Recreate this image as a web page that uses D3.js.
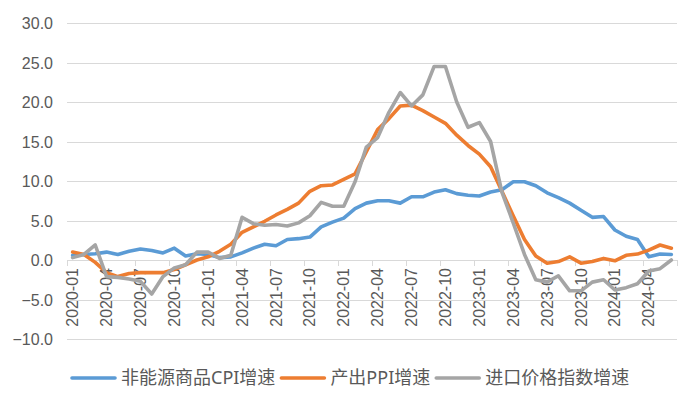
<!DOCTYPE html>
<html>
<head>
<meta charset="utf-8">
<script src="https://cdn.jsdelivr.net/npm/d3@7"></script>
<style>
  html, body { margin: 0; padding: 0; background: #fff; }
  svg { display: block; font-family: "Noto Sans", "Noto Sans CJK SC", sans-serif; }
</style>
</head>
<body>
<svg id="chart" width="700" height="409"></svg>
<script>
const months = [
  "2020-01","2020-02","2020-03","2020-04","2020-05","2020-06","2020-07","2020-08","2020-09","2020-10","2020-11","2020-12",
  "2021-01","2021-02","2021-03","2021-04","2021-05","2021-06","2021-07","2021-08","2021-09","2021-10","2021-11","2021-12",
  "2022-01","2022-02","2022-03","2022-04","2022-05","2022-06","2022-07","2022-08","2022-09","2022-10","2022-11","2022-12",
  "2023-01","2023-02","2023-03","2023-04","2023-05","2023-06","2023-07","2023-08","2023-09","2023-10","2023-11","2023-12",
  "2024-01","2024-02","2024-03","2024-04","2024-05","2024-06"
];
const seriesNames = ["非能源商品CPI增速", "产出PPI增速", "进口价格指数增速"];
const cpiNonEnergy = [
  0.6, 0.7, 0.8, 1.0, 0.7, 1.1, 1.4, 1.2, 0.9, 1.5, 0.5, 0.8,
  0.7, 0.3, 0.4, 0.9, 1.5, 2.0, 1.8, 2.6, 2.7, 2.9, 4.2, 4.8,
  5.3, 6.5, 7.2, 7.5, 7.5, 7.2, 8.0, 8.0, 8.6, 8.9, 8.4, 8.2,
  8.1, 8.6, 8.9, 9.9, 9.9, 9.4, 8.5, 7.9, 7.2, 6.3, 5.4, 5.5,
  3.8, 3.0, 2.6, 0.4, 0.75, 0.7
];
const ppiOutput = [
  1.0, 0.7, -0.3, -1.6, -2.1, -1.7, -1.6, -1.6, -1.6, -1.2, -0.6, 0.0,
  0.4, 1.1, 2.0, 3.5, 4.2, 4.9, 5.7, 6.4, 7.2, 8.7, 9.4, 9.5,
  10.2, 10.9, 13.7, 16.5, 17.9, 19.5, 19.6, 18.9, 18.1, 17.3, 15.8, 14.5,
  13.4, 11.8, 8.7, 5.6, 2.6, 0.5, -0.4, -0.2, 0.4, -0.4, -0.2, 0.2,
  -0.1, 0.6, 0.75, 1.25, 1.9, 1.5
];
const importPrice = [
  0.3, 0.7, 1.9, -2.1, -2.2, -2.4, -2.7, -4.3, -2.1, -1.0, -0.6, 1.0,
  1.0, 0.2, 0.6, 5.4, 4.6, 4.4, 4.5, 4.3, 4.7, 5.6, 7.3, 6.8,
  6.8, 9.9, 14.3, 15.5, 18.7, 21.2, 19.5, 20.9, 24.5, 24.5, 20.0, 16.8,
  17.4, 15.0, 8.6, 4.7, 0.7, -2.5, -2.8, -2.0, -3.9, -3.9, -2.8, -2.5,
  -3.8, -3.5, -3.0, -1.4, -1.1, 0.0
];
const yTicks = [-10, -5, 0, 5, 10, 15, 20, 25, 30];
const colors = ["#5B9BD5", "#ED7D31", "#A5A5A5"];

const svg = d3.select("#chart");
const plot = { left: 67, right: 677, top: 23, bottom: 339 };
const textColor = "#595959";
const gridColor = "#d9d9d9";

const x = d3.scaleBand().domain(months).range([plot.left, plot.right]).padding(0);
const y = d3.scaleLinear().domain([-10, 30]).range([plot.bottom, plot.top]);
const bw = x.bandwidth();
const cx = m => x(m) + bw / 2;

// Gridlines
svg.append("g").selectAll("line").data(yTicks).join("line")
  .attr("x1", plot.left).attr("x2", plot.right)
  .attr("y1", d => Math.round(y(d)) + 0.5).attr("y2", d => Math.round(y(d)) + 0.5)
  .attr("stroke", gridColor).attr("stroke-width", 1);

// Y axis labels
const yAxis = d3.axisLeft(y).tickValues(yTicks).tickSize(0).tickPadding(0).tickFormat(d3.format(".1f"));
const gy = svg.append("g").attr("transform", `translate(53,0)`).call(yAxis);
gy.select(".domain").remove();
gy.selectAll("text").attr("fill", textColor).style("font-size", "16px").attr("x", 0).attr("dy", "0.35em");

// X axis tick marks at category boundaries every 3 months
const boundaryIdx = d3.range(0, months.length + 1, 3);
svg.append("g").selectAll("line").data(boundaryIdx).join("line")
  .attr("x1", i => Math.round(plot.left + i * bw) + 0.5)
  .attr("x2", i => Math.round(plot.left + i * bw) + 0.5)
  .attr("y1", y(0)).attr("y2", y(0) + 6)
  .attr("stroke", gridColor).attr("stroke-width", 1);

// X axis labels every 3 months, rotated
const labelMonths = months.filter((m, i) => i % 3 === 0);
const xAxis = d3.axisBottom(x).tickValues(labelMonths).tickSize(0).tickPadding(0);
const gx = svg.append("g").attr("transform", `translate(0,${y(0)})`).call(xAxis);
gx.select(".domain").remove();
gx.selectAll(".tick text")
  .attr("fill", textColor).style("font-size", "16px")
  .attr("text-anchor", "end")
  .attr("transform", "rotate(-90)")
  .attr("x", -8).attr("y", 0).attr("dy", "0.35em");

// Lines
const allSeries = [cpiNonEnergy, ppiOutput, importPrice];
const line = d3.line().x((d, i) => cx(months[i])).y(d => y(d));
svg.append("g").selectAll("path").data(allSeries).join("path")
  .attr("d", d => line(d))
  .attr("fill", "none")
  .attr("stroke", (d, i) => colors[i])
  .attr("stroke-width", 3.6)
  .attr("stroke-linejoin", "round")
  .attr("stroke-linecap", "round");

// Legend
const legend = svg.append("g");
let lx = 72;
const ly = 378;
seriesNames.forEach((name, i) => {
  legend.append("line")
    .attr("x1", lx).attr("x2", lx + 43).attr("y1", ly).attr("y2", ly)
    .attr("stroke", colors[i]).attr("stroke-width", 3.6).attr("stroke-linecap", "round");
  const t = legend.append("text")
    .attr("x", lx + 49).attr("y", ly).attr("dy", "0.35em")
    .attr("fill", textColor).style("font-size", "18px")
    .text(name);
  const w = t.node().getComputedTextLength();
  lx = lx + 49 + w + 6;
});
</script>
</body>
</html>
